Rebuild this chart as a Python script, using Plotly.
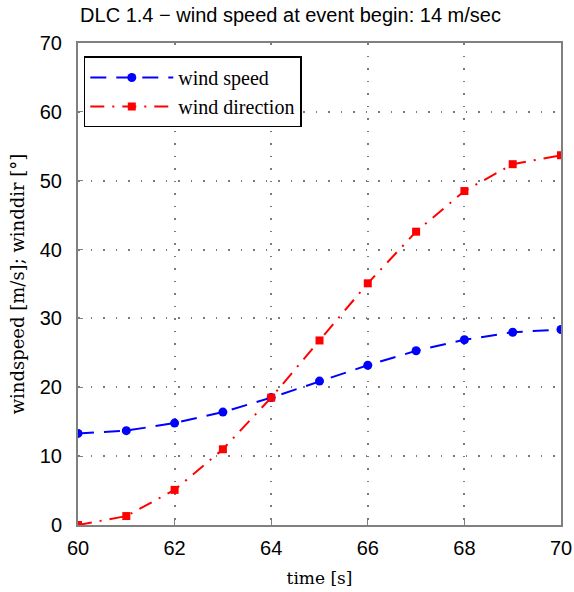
import plotly.graph_objects as go

time_s = [60, 61, 62, 63, 64, 65, 66, 67, 68, 69, 70]
wind_speed = [13.3, 13.7, 14.8, 16.4, 18.5, 20.9, 23.2, 25.3, 26.9, 28.0, 28.4]
wind_dir = [0.0, 1.3, 5.1, 11.0, 18.5, 26.8, 35.1, 42.6, 48.5, 52.4, 53.7]

fig = go.Figure()
fig.add_trace(go.Scatter(x=time_s, y=wind_speed, mode="lines+markers", name="wind speed",
                         line=dict(color="#0000ff", width=2, dash="16px,10px"),
                         marker=dict(symbol="circle", size=9, color="#0000ff")))
fig.add_trace(go.Scatter(x=time_s, y=wind_dir, mode="lines+markers", name="wind direction",
                         line=dict(color="#ff0000", width=2, dash="14px,8px,2px,8px"),
                         marker=dict(symbol="square", size=8, color="#ff0000")))

axis_common = dict(showline=True, linecolor="#808080", linewidth=2, mirror=True,
                   showgrid=True, gridcolor="#7a7a7a", griddash="1.5px,11px", gridwidth=1.5,
                   ticks="inside", ticklen=5, tickcolor="#808080", zeroline=False,
                   automargin=False,
                   tickfont=dict(family="Liberation Sans, Arial, sans-serif", size=20, color="black"))

fig.update_layout(
    width=574, height=592,
    margin=dict(l=78, r=13, t=43, b=67),
    paper_bgcolor="white", plot_bgcolor="white",
    title=dict(text="DLC 1.4 \u2212 wind speed at event begin: 14 m/sec",
               xref="paper", x=0.44, xanchor="center", y=0.975, yanchor="middle",
               font=dict(family="Liberation Sans, Arial, sans-serif", size=20, color="black")),
    xaxis=dict(range=[60, 70], tickvals=[60, 62, 64, 66, 68, 70], ticklabelstandoff=4,
               title=dict(text="time [s]", standoff=14,
                          font=dict(family="DejaVu Serif, Liberation Serif, serif", size=17, color="black")),
               **axis_common),
    yaxis=dict(range=[0, 70], tickvals=[0, 10, 20, 30, 40, 50, 60, 70], ticklabelstandoff=10,
               title=dict(text="windspeed [m/s]; winddir [\u00b0]", standoff=10,
                          font=dict(family="DejaVu Serif, Liberation Serif, serif", size=18, color="black")),
               **axis_common),
    legend=dict(x=0.012, y=0.972, xanchor="left", yanchor="top",
                bgcolor="white", bordercolor="black", borderwidth=1.5,
                font=dict(family="Liberation Serif, DejaVu Serif, serif", size=20, color="black"),
                tracegroupgap=0, itemwidth=83),
    showlegend=True,
)

fig.write_html("out.html")
